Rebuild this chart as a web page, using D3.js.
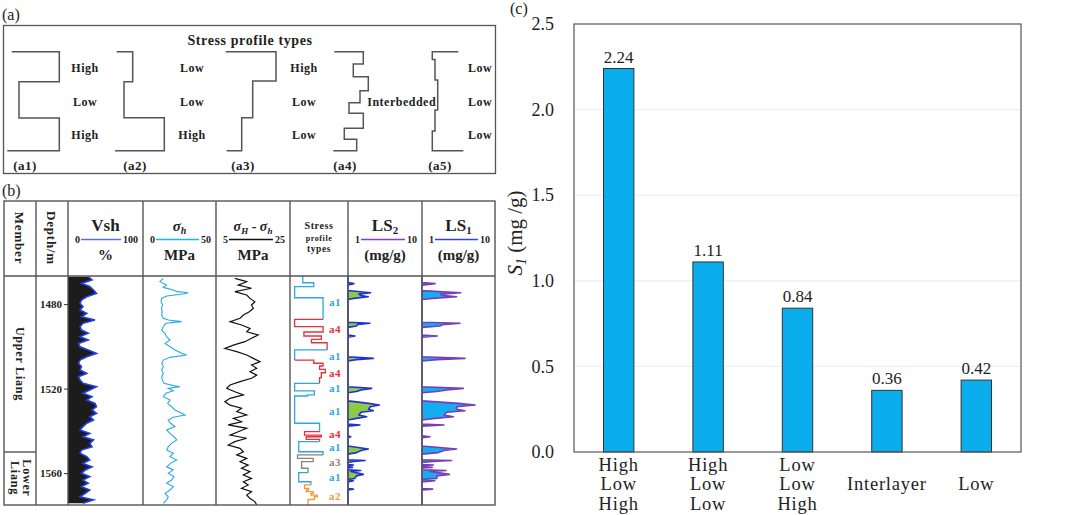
<!DOCTYPE html>
<html lang="en">
<head>
<meta charset="utf-8">
<script src="https://cdn.jsdelivr.net/npm/d3@7"></script>
<style>
  body { margin: 0; background: #fff; }
  svg { display: block; }
  .bold { font-family: "Liberation Serif", "Times New Roman", serif; font-weight: bold; fill: #222; }
  .reg { font-family: "Liberation Serif", "Times New Roman", serif; fill: #222; }
</style>
</head>
<body>
<script>

// ---------- panel (c) data ----------
var categories = [["High", "Low", "High"], ["High", "Low", "Low"], ["Low", "Low", "High"], ["Interlayer"], ["Low"]];
var s1Values = [2.24, 1.11, 0.84, 0.36, 0.42];
var s1Ticks = [0, 0.5, 1.0, 1.5, 2.0, 2.5];

// ---------- panel (a) data: schematic stress profiles (depth 0-100, stress units) ----------
var profileNames = ["(a1)", "(a2)", "(a3)", "(a4)", "(a5)"];
var profileCapTop = [4.7, 1.7, 0.7, 1.3, 26.3];
var profileCapBottom = [0.3, 0, 1.7, 0.3, 31.3];
var profileSteps = [
  [[0, 52.3], [30.3, 12], [67, 52.3]],
  [[0, 17.7], [30.3, 9], [66.7, 49.3]],
  [[0, 51], [29.6, 27.7], [66.7, 16.7]],
  [[0, 30.3], [12.4, 20.3], [25.2, 35.3], [39.4, 27], [51.5, 16], [62.2, 30.3], [77.4, 11.3], [88.5, 23.7]],
  [[0, 0.3], [7.8, 3], [28.6, 5.7], [58.9, 3], [80, 0.3]]
];
var profileLabels = [["High", "Low", "High"], ["Low", "Low", "High"], ["High", "Low", "Low"], ["Interbedded"], ["Low", "Low", "Low"]];

// ---------- panel (b) data: well logs [depth m, value] ----------
var depthTicks = [1480, 1520, 1560];
var vsh = [[1467.0,27],[1468.6,32],[1470.2,18],[1471.7,29],[1473.3,34],[1474.9,38],[1476.5,25],[1478.1,18],
  [1479.6,16],[1481.2,20],[1482.8,16],[1484.4,25],[1486.0,18],[1487.5,36],[1489.1,20],[1490.7,16],
  [1492.3,18],[1493.8,27],[1495.4,16],[1497.0,27],[1498.6,14],[1500.2,16],[1501.7,27],[1503.3,38],
  [1504.9,25],[1506.5,16],[1508.0,14],[1509.6,18],[1511.2,16],[1512.8,25],[1514.4,14],[1515.9,16],
  [1517.5,20],[1519.1,38],[1520.7,29],[1522.2,20],[1523.8,32],[1525.4,25],[1527.0,36],[1528.6,38],
  [1530.1,32],[1531.7,38],[1533.3,29],[1534.9,34],[1536.4,25],[1538.0,20],[1539.6,16],[1541.2,29],
  [1542.8,20],[1544.3,34],[1545.9,29],[1547.5,32],[1549.1,18],[1550.6,16],[1552.2,25],[1553.8,29],
  [1555.4,20],[1557.0,32],[1558.5,23],[1560.1,18],[1561.7,29],[1563.3,20],[1564.8,27],[1566.4,18],
  [1568.0,29],[1569.6,23],[1571.2,16],[1572.7,34],[1574.3,20]];
var sigmaH = [[1467.8,13.9],[1469.4,11.6],[1471.0,16.2],[1472.1,13.9],[1473.3,20.8],[1474.1,23.1],[1474.6,31.0],
  [1475.2,27.6],[1476.2,16.2],[1477.3,12.8],[1478.9,12.3],[1480.4,13.5],[1482.0,12.6],[1483.6,13.2],
  [1485.2,12.8],[1486.7,13.9],[1487.5,17.3],[1488.3,26.5],[1489.1,15.7],[1490.7,13.9],[1492.3,12.8],
  [1493.8,15.1],[1495.4,16.2],[1497.0,18.5],[1498.6,15.1],[1500.2,18.5],[1501.7,21.9],[1503.3,26.5],
  [1504.1,29.9],[1505.2,18.5],[1506.5,13.9],[1508.0,12.8],[1509.6,13.9],[1511.2,12.8],[1512.8,13.9],
  [1514.4,12.8],[1515.9,13.2],[1517.5,14.4],[1518.6,20.8],[1519.1,25.3],[1519.9,17.3],[1521.0,20.8],
  [1522.2,15.7],[1523.8,13.9],[1525.4,18.5],[1527.0,16.9],[1528.6,19.6],[1530.1,21.9],[1531.7,26.5],
  [1532.5,28.8],[1533.6,20.8],[1534.9,17.3],[1536.4,18.9],[1538.0,21.9],[1539.6,16.2],[1541.2,18.5],
  [1542.8,21.2],[1544.3,23.1],[1545.9,19.6],[1547.5,17.3],[1549.1,16.2],[1550.6,20.8],[1552.2,18.5],
  [1553.8,23.1],[1555.4,18.9],[1557.0,16.2],[1558.5,20.8],[1560.1,17.3],[1561.7,21.2],[1563.3,19.6],
  [1564.8,16.2],[1566.4,20.8],[1568.0,18.5],[1569.6,15.1],[1571.2,17.3],[1572.7,16.2],[1574.3,13.9]];
var sigmaDiff = [[1467.8,10.1],[1469.4,13.3],[1471.0,11.0],[1472.5,14.6],[1474.1,10.1],[1475.7,13.3],[1477.3,14.2],
  [1478.9,15.5],[1480.4,14.6],[1482.0,15.1],[1483.6,14.0],[1485.2,12.4],[1486.7,11.5],[1488.3,8.8],
  [1489.9,11.9],[1491.5,14.2],[1493.1,13.3],[1494.6,16.4],[1496.2,14.6],[1497.8,12.8],[1499.4,9.7],
  [1501.0,7.4],[1502.5,10.6],[1504.1,13.3],[1505.7,15.1],[1507.3,16.9],[1508.8,14.6],[1510.4,16.0],
  [1512.0,14.2],[1513.6,16.0],[1515.1,14.6],[1516.7,11.5],[1518.3,8.8],[1519.9,7.9],[1521.5,10.1],
  [1523.0,12.4],[1524.6,8.8],[1526.2,7.4],[1527.8,8.8],[1529.3,11.9],[1530.9,10.6],[1532.5,13.3],
  [1534.1,9.7],[1535.7,11.9],[1537.2,8.3],[1538.8,13.3],[1540.4,11.0],[1542.0,8.8],[1543.5,13.3],
  [1545.1,10.1],[1546.7,8.3],[1548.3,11.5],[1549.9,12.4],[1551.4,10.6],[1553.0,13.3],[1554.6,11.5],
  [1556.2,13.7],[1557.7,11.9],[1559.3,14.2],[1560.9,12.4],[1562.5,14.6],[1564.1,12.4],[1565.6,13.7],
  [1567.2,11.9],[1568.8,14.6],[1570.4,13.3],[1572.0,14.2],[1573.5,15.5],[1575.0,16.0]];
// stress profile steps: [top depth, relative stress 0-100, type]
var stressSteps = [[1466.7,22,"a1"],[1469.9,41,"a1"],[1471.7,8,"a1"],[1477.0,57,"a1"],
  [1487.2,8,"a4"],[1490.7,57,"a4"],[1493.2,24,"a4"],[1495.1,54,"a4"],[1496.7,37,"a4"],[1498.3,64,"a4"],
  [1501.7,8,"a1"],
  [1506.5,41,"a4"],[1508.0,57,"a4"],[1509.3,51,"a4"],[1510.9,61,"a4"],[1512.5,54,"a4"],[1514.8,51,"a4"],
  [1517.5,8,"a1"],[1521.1,42,"a1"],[1523.0,30,"a1"],[1523.5,8,"a1"],[1536.4,51,"a1"],
  [1540.4,25,"a4"],[1542.0,54,"a4"],[1542.8,28,"a4"],[1544.0,51,"a4"],
  [1545.1,15,"a1"],[1549.9,57,"a1"],
  [1551.4,13,"a3"],[1553.0,40,"a3"],[1554.6,20,"a3"],[1557.7,31,"a3"],
  [1559.8,15,"a1"],[1564.1,36,"a1"],
  [1565.6,25,"a2"],[1567.2,32,"a2"],[1568.0,28,"a2"],[1568.8,40,"a2"],[1569.6,36,"a2"],[1570.4,47,"a2"],[1571.2,42,"a2"],[1572.5,31,"a2"]];
var stressBottom = 1575.1;
var stressTypeLabels = [["a1",1479.3],["a4",1492.0],["a1",1504.6],["a4",1512.8],["a1",1519.6],["a1",1530.9],
  ["a4",1541.6],["a1",1547.8],["a3",1554.6],["a1",1562.0],["a2",1570.8]];
var ls2 = [[1467,1],[1469.8,1],[1470.3,1.2],[1471.0,1],[1473.6,1],[1474.6,2.02],[1475.3,1.4],[1476.0,1.5],[1476.5,1.88],
  [1477.3,1.2],[1477.8,1],[1488.6,1],[1489.1,1.98],[1489.6,1.35],[1490.4,1.3],[1491.0,1],[1494.6,1],[1495.1,1.24],
  [1495.7,1],[1504.9,1],[1505.7,2.2],[1506.3,1.3],[1506.9,1],[1519.1,1],[1519.9,2.09],[1520.7,1.5],[1521.4,1.3],
  [1522.0,1],[1525.8,1],[1527.0,1.9],[1527.8,2.65],[1528.6,2.0],[1529.8,1.9],[1530.5,2.2],[1531.2,1.5],[1532.5,1.4],
  [1533.3,1.79],[1534.1,1.3],[1534.9,1],[1536.8,1],[1537.2,1.45],[1537.8,1],[1542.4,1],[1542.8,1.09],[1543.2,1],
  [1547.2,1],[1548.6,1.88],[1549.3,1.5],[1550.3,1.31],[1551.0,1],[1553.7,1],[1554.0,1.7],[1554.5,1.2],[1555.0,1],
  [1555.9,1],[1556.2,1.18],[1556.5,1],[1557.0,1],[1557.3,1.15],[1557.6,1],[1558.4,1],[1558.8,1.48],[1559.2,1.1],
  [1560.6,1.61],[1561.3,1.3],[1562.5,1.24],[1563.0,1],[1563.6,1.18],[1564.2,1],[1567.3,1],[1567.6,1.18],[1568.0,1],[1575,1]];
var ls1 = [[1467,1],[1469.8,1],[1470.3,1.51],[1471.0,1],[1473.6,1],[1474.6,3.39],[1475.3,1.8],[1476.0,2.0],[1476.5,2.98],
  [1477.3,1.4],[1477.8,1],[1488.6,1],[1489.1,3.31],[1489.8,1.9],[1490.4,1.76],[1491.0,1],[1494.6,1],[1495.1,1.62],
  [1495.7,1],[1504.9,1],[1505.7,3.88],[1506.3,1.6],[1506.9,1],[1519.1,1],[1519.9,3.68],[1520.7,2.18],[1521.4,1.6],
  [1522.0,1],[1525.8,1],[1527.0,3.2],[1527.8,5.32],[1528.6,3.0],[1529.8,2.98],[1530.5,3.88],[1531.2,2.2],[1532.5,2.0],
  [1533.3,2.69],[1534.1,1.5],[1534.9,1],[1536.8,1],[1537.2,2.0],[1537.8,1],[1542.4,1],[1542.8,1.29],[1543.2,1],
  [1547.2,1],[1548.6,2.98],[1549.3,2.0],[1550.3,1.67],[1551.0,1],[1553.7,1],[1554.0,2.55],[1554.5,1.4],[1555.0,1],
  [1555.9,1],[1556.2,1.43],[1556.5,1],[1557.0,1],[1557.3,1.38],[1557.6,1],[1558.4,1],[1558.8,2.13],[1559.2,1.3],
  [1560.6,2.37],[1561.3,1.6],[1562.5,1.6],[1563.0,1],[1563.6,1.5],[1564.2,1],[1567.3,1],[1567.6,1.4],[1568.0,1],[1575,1]];

var w = 1065, h = 515;
var svg = d3.select("body").append("svg").attr("width", w).attr("height", h);
svg.append("rect").attr("width", w).attr("height", h).attr("fill", "#fff");

var lineCol = "#555";

// ================= panel (a) =================
svg.append("text").attr("class", "reg").attr("x", 2).attr("y", 20).attr("font-size", 16).text("(a)");
svg.append("rect").attr("x", 3.5).attr("y", 25.5).attr("width", 492).attr("height", 148)
  .attr("fill", "none").attr("stroke", lineCol).attr("stroke-width", 1.3);
svg.append("text").attr("class", "bold").attr("x", 250).attr("y", 45).attr("text-anchor", "middle")
  .attr("font-size", 14).attr("letter-spacing", 0.6).text("Stress profile types");

var profAnchor = [7, 115, 225, 333, 432];
var profLabelX = [85, 192, 304, 401.7, 480];
var profNameX = [25, 135, 243, 345, 440];
var aY = d3.scaleLinear().domain([0, 100]).range([51.7, 150.7]);
var labelLevels = [16.5, 51, 83.5];

profileSteps.forEach(function(steps, i) {
  var ax = d3.scaleLinear().domain([0, 60]).range([profAnchor[i], profAnchor[i] + 60]);
  var pts = [[profileCapTop[i], 0]];
  steps.forEach(function(s, j) {
    var next = j < steps.length - 1 ? steps[j + 1][0] : 100;
    pts.push([s[1], s[0]]);
    pts.push([s[1], next]);
  });
  pts.push([profileCapBottom[i], 100]);
  svg.append("path")
    .attr("d", d3.line().x(function(d){ return ax(d[0]); }).y(function(d){ return aY(d[1]); })(pts))
    .attr("fill", "none").attr("stroke", lineCol).attr("stroke-width", 1.5);

  var labs = profileLabels[i];
  labs.forEach(function(t, k) {
    var lev = labs.length === 1 ? labelLevels[1] : labelLevels[k];
    svg.append("text").attr("class", "bold").attr("x", profLabelX[i]).attr("y", aY(lev))
      .attr("dy", "0.35em").attr("text-anchor", "middle").attr("font-size", 12)
      .attr("letter-spacing", 0.5).text(t);
  });
  svg.append("text").attr("class", "bold").attr("x", profNameX[i]).attr("y", 165)
    .attr("dy", "0.35em").attr("text-anchor", "middle").attr("font-size", 13)
    .attr("letter-spacing", 0.5).text(profileNames[i]);
});

// ================= panel (b) =================
svg.append("text").attr("class", "reg").attr("x", 2).attr("y", 196).attr("font-size", 16).text("(b)");

var colEdges = [4, 36, 68, 143, 216, 290, 348, 422, 495];
var tTop = 201, hBottom = 276, tBottom = 505;

var depth = d3.scaleLinear().domain([1466.7, 1575.1]).range([hBottom, tBottom]);

var clip = svg.append("clipPath").attr("id", "trackClip");
clip.append("rect").attr("x", 68).attr("y", hBottom).attr("width", 427).attr("height", tBottom - hBottom);
var tracks = svg.append("g").attr("clip-path", "url(#trackClip)");

// Vsh
var vshX = d3.scaleLinear().domain([0, 100]).range([68, 143]);
tracks.append("path").datum(vsh)
  .attr("d", d3.area().y(function(d){ return depth(d[0]); }).x0(vshX(0)).x1(function(d){ return vshX(d[1]); }))
  .attr("fill", "#1c1c1c");
tracks.append("path").datum(vsh)
  .attr("d", d3.line().y(function(d){ return depth(d[0]); }).x(function(d){ return vshX(d[1]); }))
  .attr("fill", "none").attr("stroke", "#2340e0").attr("stroke-width", 1.6);

// sigma h
var shX = d3.scaleLinear().domain([0, 50]).range([143, 216]);
tracks.append("path").datum(sigmaH)
  .attr("d", d3.line().y(function(d){ return depth(d[0]); }).x(function(d){ return shX(d[1]); }))
  .attr("fill", "none").attr("stroke", "#2aaae6").attr("stroke-width", 1.1);

// sigma H - sigma h
var dsX = d3.scaleLinear().domain([5, 25]).range([216, 290]);
tracks.append("path").datum(sigmaDiff)
  .attr("d", d3.line().y(function(d){ return depth(d[0]); }).x(function(d){ return dsX(d[1]); }))
  .attr("fill", "none").attr("stroke", "#111").attr("stroke-width", 1.2);

// stress profile types
var spX = d3.scaleLinear().domain([0, 100]).range([290, 348]);
var typeColor = { a1: "#2ba8e0", a4: "#e8303a", a3: "#8c8279", a2: "#f29a3a" };
var runs = [];
stressSteps.forEach(function(s, i) {
  var next = i < stressSteps.length - 1 ? stressSteps[i + 1][0] : stressBottom;
  if (i === 0 || s[2] !== stressSteps[i - 1][2]) {
    var r = { type: s[2], pts: [] };
    if (i > 0) r.pts.push([stressSteps[i - 1][1], s[0]]);
    runs.push(r);
  }
  var cur = runs[runs.length - 1];
  cur.pts.push([s[1], s[0]]);
  cur.pts.push([s[1], next]);
});
tracks.selectAll(".spRun").data(runs).enter().append("path")
  .attr("class", "spRun")
  .attr("d", function(r){ return d3.line().x(function(d){ return spX(d[0]); }).y(function(d){ return depth(d[1]); })(r.pts); })
  .attr("fill", "none").attr("stroke", function(r){ return typeColor[r.type]; }).attr("stroke-width", 1.3);
tracks.selectAll(".spLab").data(stressTypeLabels).enter().append("text")
  .attr("class", "bold").attr("x", 329).attr("y", function(d){ return depth(d[1]); })
  .attr("dy", "0.35em").attr("font-size", 11).attr("letter-spacing", 0.5)
  .style("fill", function(d){ return typeColor[d[0]]; })
  .text(function(d){ return d[0]; });

// LS2 and LS1
var ls2X = d3.scaleLog().domain([1, 10]).range([348, 422]);
var ls1X = d3.scaleLog().domain([1, 10]).range([422, 495]);
function lsTrack(data, xs, fill, stroke) {
  tracks.append("path").datum(data)
    .attr("d", d3.area().y(function(d){ return depth(d[0]); }).x0(xs(1)).x1(function(d){ return xs(d[1]); }))
    .attr("fill", fill).attr("stroke", stroke).attr("stroke-width", 1.6).attr("stroke-linejoin", "round");
}
lsTrack(ls2, ls2X, "#8ccb45", "#2130d4");
lsTrack(ls1, ls1X, "#12aeef", "#7a3cb8");

// table grid
var grid = svg.append("g").attr("stroke", lineCol).attr("stroke-width", 1.4).attr("fill", "none");
grid.append("rect").attr("x", colEdges[0]).attr("y", tTop).attr("width", colEdges[8] - colEdges[0]).attr("height", tBottom - tTop);
grid.append("line").attr("x1", colEdges[0]).attr("x2", colEdges[8]).attr("y1", hBottom).attr("y2", hBottom);
colEdges.slice(1, 8).forEach(function(x) {
  grid.append("line").attr("x1", x).attr("x2", x).attr("y1", tTop).attr("y2", tBottom);
});
grid.append("line").attr("x1", colEdges[0]).attr("x2", colEdges[1]).attr("y1", 452).attr("y2", 452);

// depth axis
var dAxis = svg.append("g").attr("transform", "translate(68,0)")
  .call(d3.axisLeft(depth).tickValues(depthTicks).tickSize(4).tickPadding(2).tickFormat(d3.format("d")));
dAxis.select(".domain").remove();
dAxis.selectAll("line").attr("stroke", "#333");
dAxis.selectAll("text").attr("class", "bold").attr("font-size", 11).attr("font-family", null).attr("fill", null);

// member labels (rotated)
function vText(x, y, lines, size) {
  var t = svg.append("text").attr("class", "bold").attr("transform", "translate(" + x + "," + y + ") rotate(90)")
    .attr("text-anchor", "middle").attr("font-size", size).attr("letter-spacing", 0.8);
  lines.forEach(function(l, i) {
    t.append("tspan").attr("x", 0).attr("y", (i - (lines.length - 1) / 2) * 12).attr("dy", "0.35em").text(l);
  });
}
vText(20, 238, ["Member"], 13);
vText(52, 238, ["Depth/m"], 13);
vText(20, 364, ["Upper Liang"], 12);
vText(21, 478, ["Lower", "Liang"], 12);

// header titles
var headerCols = [
  { l: 68, r: 143, min: "0", max: "100", color: "#5a6fd8", unit: "%" },
  { l: 143, r: 216, min: "0", max: "50", color: "#1bb4f0", unit: "MPa" },
  { l: 216, r: 290, min: "5", max: "25", color: "#111", unit: "MPa" },
  { l: 348, r: 422, min: "1", max: "10", color: "#8a3fbf", unit: "(mg/g)" },
  { l: 422, r: 495, min: "1", max: "10", color: "#2f45d8", unit: "(mg/g)" }
];
var titleY = 231, scaleY = 239.5, unitY = 260;
headerCols.forEach(function(c, i) {
  var cx = (c.l + c.r) / 2;
  var t = svg.append("text").attr("class", "bold").attr("x", cx).attr("y", titleY).attr("text-anchor", "middle");
  if (i === 0) {
    t.attr("font-size", 17).text("Vsh");
  } else if (i === 1) {
    t.attr("font-size", 15).attr("font-style", "italic");
    t.append("tspan").text("σ");
    t.append("tspan").attr("font-size", 10).attr("dy", 3).text("h");
  } else if (i === 2) {
    t.attr("font-size", 14).attr("font-style", "italic");
    t.append("tspan").text("σ");
    t.append("tspan").attr("font-size", 9).attr("dy", 3).text("H");
    t.append("tspan").attr("dy", -3).attr("font-style", "normal").text(" - ");
    t.append("tspan").text("σ");
    t.append("tspan").attr("font-size", 9).attr("dy", 3).text("h");
  } else {
    t.attr("font-size", 17);
    t.append("tspan").text("LS");
    t.append("tspan").attr("font-size", 11).attr("dy", 3).text(i === 3 ? "2" : "1");
  }
  svg.append("text").attr("class", "bold").attr("x", c.l + 7).attr("y", scaleY).attr("dy", "0.35em")
    .attr("font-size", 10).text(c.min);
  var rt = svg.append("text").attr("class", "bold").attr("x", c.r - 5).attr("y", scaleY).attr("dy", "0.35em")
    .attr("text-anchor", "end").attr("font-size", 10).text(c.max);
  var rw = rt.node().getComputedTextLength();
  svg.append("line").attr("x1", c.l + 13).attr("x2", c.r - 5 - rw - 2).attr("y1", scaleY).attr("y2", scaleY)
    .attr("stroke", c.color).attr("stroke-width", 1.6);
  svg.append("text").attr("class", "bold").attr("x", cx).attr("y", unitY).attr("text-anchor", "middle")
    .attr("font-size", 15).text(c.unit);
});
var spHead = svg.append("text").attr("class", "bold").attr("text-anchor", "middle").attr("letter-spacing", 0.6);
spHead.append("tspan").attr("x", 319).attr("y", 229).attr("font-size", 10).text("Stress");
spHead.append("tspan").attr("x", 319).attr("y", 241).attr("font-size", 8).text("profile");
spHead.append("tspan").attr("x", 319).attr("y", 252).attr("font-size", 9.5).text("types");

// ================= panel (c) =================
var cl = 574, cr = 1021, ct = 24, cb = 452;
var xC = d3.scaleBand().domain(d3.range(s1Values.length)).range([cl, cr]).paddingInner(0.66).paddingOuter(0.33);
var yC = d3.scaleLinear().domain([0, 2.5]).range([cb, ct]);

svg.append("text").attr("class", "reg").attr("x", 510).attr("y", 14).attr("font-size", 16).text("(c)");

svg.append("g").selectAll("line").data(s1Ticks.slice(1, 5)).enter().append("line")
  .attr("x1", cl).attr("x2", cr).attr("y1", function(d){ return yC(d); }).attr("y2", function(d){ return yC(d); })
  .attr("stroke", "#ececec").attr("stroke-width", 1);

svg.selectAll(".bar").data(s1Values).enter().append("rect")
  .attr("class", "bar")
  .attr("x", function(d, i){ return xC(i); })
  .attr("width", xC.bandwidth())
  .attr("y", function(d){ return yC(d); })
  .attr("height", function(d){ return cb - yC(d); })
  .attr("fill", "#0aaeec").attr("stroke", "#333").attr("stroke-width", 1);

svg.selectAll(".vlab").data(s1Values).enter().append("text")
  .attr("class", "reg").attr("x", function(d, i){ return xC(i) + xC.bandwidth() / 2; })
  .attr("y", function(d){ return yC(d) - 6; }).attr("text-anchor", "middle").attr("font-size", 17)
  .text(function(d){ return d.toFixed(2); });

svg.append("rect").attr("x", cl).attr("y", ct).attr("width", cr - cl).attr("height", cb - ct)
  .attr("fill", "none").attr("stroke", "#555").attr("stroke-width", 1.2);

var yAx = svg.append("g").attr("transform", "translate(" + cl + ",0)")
  .call(d3.axisLeft(yC).tickValues(s1Ticks).tickSize(0).tickPadding(20).tickFormat(d3.format(".1f")));
yAx.select(".domain").remove();
yAx.selectAll("text").attr("class", "reg").attr("font-size", 18).attr("font-family", null).attr("fill", null);

categories.forEach(function(lines, i) {
  var cx = xC(i) + xC.bandwidth() / 2;
  lines.forEach(function(l, k) {
    svg.append("text").attr("class", "reg").attr("x", cx)
      .attr("y", 484 + (k - (lines.length - 1) / 2) * 19.5).attr("dy", "0.35em")
      .attr("text-anchor", "middle").attr("font-size", 18.5).attr("letter-spacing", 0.8).text(l);
  });
});

var yl = svg.append("text").attr("class", "reg").attr("transform", "translate(522,233) rotate(-90)")
  .attr("text-anchor", "middle").attr("font-size", 21);
yl.append("tspan").attr("font-style", "italic").text("S");
yl.append("tspan").attr("font-style", "italic").attr("font-size", 14).attr("dy", 4).text("1");
yl.append("tspan").attr("dy", -4).text(" (mg /g)");

</script>
</body>
</html>
